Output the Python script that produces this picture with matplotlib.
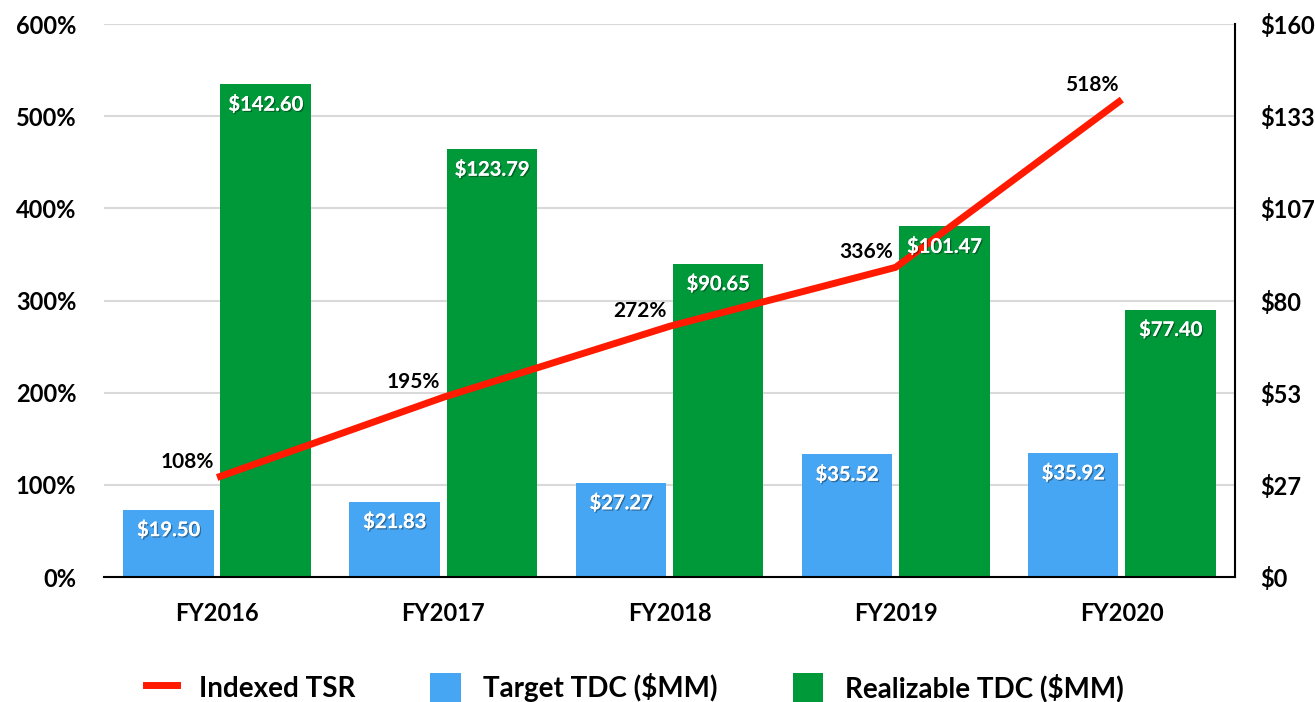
import matplotlib
matplotlib.use("Agg")
import matplotlib.pyplot as plt
import matplotlib.patheffects as pe
from matplotlib.lines import Line2D
from matplotlib.patches import Patch
import numpy as np

plt.rcParams['font.family'] = ['Lato', 'DejaVu Sans']
plt.rcParams['font.weight'] = 'bold'

# data
years = ["FY2016", "FY2017", "FY2018", "FY2019", "FY2020"]
tsr = [108, 195, 272, 336, 518]
target_tdc = [19.50, 21.83, 27.27, 35.52, 35.92]
realizable_tdc = [142.60, 123.79, 90.65, 101.47, 77.40]
left_ticks = [0, 100, 200, 300, 400, 500, 600]
right_ticks = [0, 160 / 6, 320 / 6, 80, 640 / 6, 800 / 6, 160]
right_labels = ["$0", "$27", "$53", "$80", "$107", "$133", "$160"]

blue = "#47a6f4"
green = "#00993a"
red = "#ff1a00"

fig = plt.figure(figsize=(13.15, 7.02), dpi=100)
ax1 = fig.add_axes([0.0791, 0.178, 0.860, 0.7878])
ax2 = ax1.twinx()

x = np.arange(len(years))
w = 0.4
off = 0.215

ax2.bar(x - off, target_tdc, w, color=blue, zorder=2)
ax2.bar(x + off, realizable_tdc, w, color=green, zorder=2)
ax2.set_ylim(0, 160)
ax2.set_yticks(right_ticks)
ax2.set_yticklabels(right_labels)
ax2.grid(axis='y', color='#d9d9d9', linewidth=1.5)
ax2.set_axisbelow(True)

ax1.set_zorder(ax2.get_zorder() + 1)
ax1.patch.set_visible(False)
ax1.plot(x, tsr, color=red, linewidth=5, solid_capstyle='butt', zorder=3)
ax1.set_ylim(0, 600)
ax1.set_xlim(-0.5, 4.5)
ax1.set_yticks(left_ticks)
ax1.set_yticklabels([f"{v}%" for v in left_ticks])
ax1.set_xticks(x)
ax1.set_xticklabels(years)

for xi, v in zip(x, tsr):
    ax1.annotate(f"{v}%", (xi, v), xytext=(-30, 15), textcoords='offset pixels',
                 ha='center', va='center', fontsize=15, fontweight='bold',
                 color='black', zorder=5)

shadow = [pe.withSimplePatchShadow(offset=(1, -1), alpha=0.35, shadow_rgbFace='black'), pe.Normal()]
for xi, v in zip(x, target_tdc):
    ax1.annotate(f"${v:.2f}", (xi - off, v), xycoords=ax2.transData, xytext=(0, -20),
                 textcoords='offset pixels', ha='center', va='center', fontsize=14.5,
                 fontweight='bold', color='white', zorder=6, path_effects=shadow)
for xi, v in zip(x, realizable_tdc):
    ax1.annotate(f"${v:.2f}", (xi + off, v), xycoords=ax2.transData, xytext=(0, -20),
                 textcoords='offset pixels', ha='center', va='center', fontsize=14.5,
                 fontweight='bold', color='white', zorder=6, path_effects=shadow)

for a in (ax1, ax2):
    a.spines['top'].set_visible(False)
    a.spines['left'].set_visible(False)
    a.spines['right'].set_visible(False)
    a.spines['bottom'].set_visible(False)
    a.tick_params(length=0, labelsize=17)
ax2.spines['right'].set_visible(True)
ax2.spines['right'].set_linewidth(1.5)
ax1.spines['bottom'].set_visible(True)
ax1.spines['bottom'].set_linewidth(1.5)
ax1.tick_params(axis='y', pad=20)
ax2.tick_params(axis='y', pad=18)
ax1.tick_params(axis='x', pad=18)

handles = [Line2D([0], [0], color=red, linewidth=5),
           Patch(facecolor=blue), Patch(facecolor=green)]
labels = ["Indexed TSR", "Target TDC ($MM)", "Realizable TDC ($MM)"]
fig.legend(handles, labels, loc='center', bbox_to_anchor=(0.483, 0.02), ncol=3,
           frameon=False, fontsize=20, handlelength=1.1, handleheight=1.3,
           columnspacing=2.7, handletextpad=0.8)

fig.savefig("out.png", dpi=100)
